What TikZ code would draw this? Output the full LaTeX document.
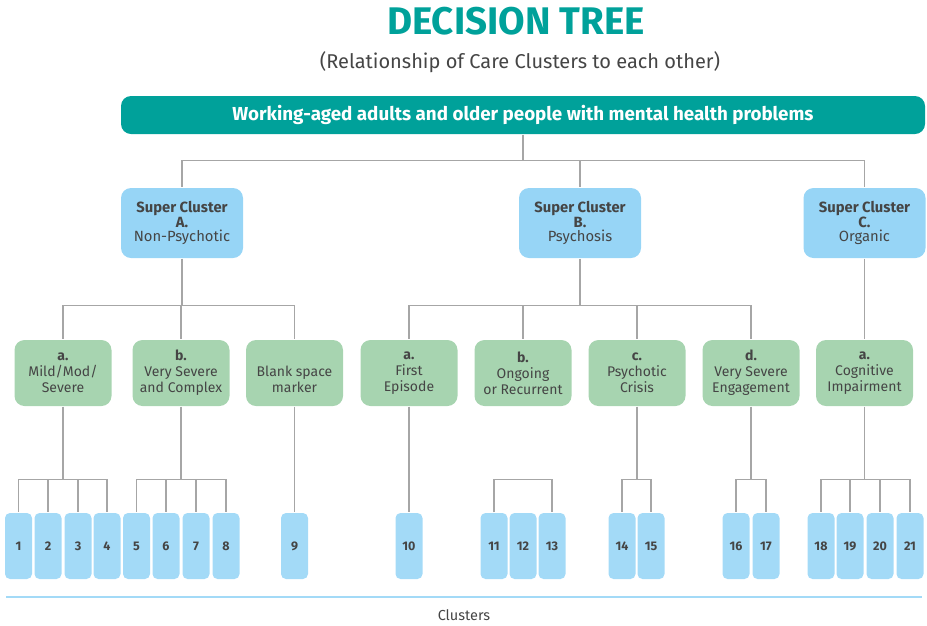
\documentclass[tikz,border=0pt]{standalone}
\usepackage{fontspec}
\setmainfont{Fira Sans}
\usetikzlibrary{positioning}
\definecolor{dtTeal}{HTML}{00A19A}
\definecolor{dtText}{HTML}{454545}
\definecolor{dtSuper}{HTML}{97D5F6}
\definecolor{dtCluster}{HTML}{A3DAF7}
\definecolor{dtGreen}{HTML}{A7D4B0}
\definecolor{dtLine}{HTML}{A6A6A6}

\begin{document}
\begin{tikzpicture}[x=1pt,y=-1pt,line width=1.3pt,draw=dtLine,
 every node/.style={text=dtText,align=center,inner sep=0pt}]
 \tikzstyle{super}=[fill=dtSuper,rounded corners=10pt,minimum width=122pt,minimum height=70pt,
   font=\fontsize{14.8}{14.5}\selectfont]
 \tikzstyle{sub}=[fill=dtGreen,rounded corners=10pt,minimum width=97pt,minimum height=66pt,
   font=\fontsize{14}{16}\selectfont]
 \tikzstyle{cluster}=[fill=dtCluster,rounded corners=5pt,minimum width=27pt,minimum height=66pt,
   font=\bfseries\fontsize{12.5}{13}\selectfont]

 \useasboundingbox (0,0) rectangle (927,625);

 \node[font=\bfseries\fontsize{38.5}{38}\selectfont,text=dtTeal] (title) at (516,21) {DECISION TREE};
 \node[font=\fontsize{20}{20}\selectfont] (subtitle) at (520,62) {(Relationship of Care Clusters to each other)};
 \node[fill=dtTeal,rounded corners=10pt,minimum width=804pt,minimum height=38pt,text=white,
   font=\bfseries\fontsize{18.8}{19}\selectfont] (top) at (523,115)
   {Working-aged adults and older people with mental health problems};

 % super clusters
 \node[super] (A) at (182,223) {\textbf{Super Cluster}\\\textbf{A.}\\Non-Psychotic};
 \node[super] (B) at (580,223) {\textbf{Super Cluster}\\\textbf{B.}\\Psychosis};
 \node[super] (C) at (864.5,223) {\textbf{Super Cluster}\\\textbf{C.}\\Organic};

 % care clusters
 \node[sub] (Aa) at (63,373) {\textbf{a.}\\Mild/Mod/\\Severe};
 \node[sub] (Ab) at (181,373) {\textbf{b.}\\Very Severe\\and Complex};
 \node[sub] (Ac) at (294.5,373) {\phantom{a.}\\Blank space\\marker};
 \node[sub] (Ba) at (409,373) {\textbf{a.}\\First\\Episode};
 \node[sub] (Bb) at (523,373) {\textbf{b.}\\Ongoing\\or Recurrent};
 \node[sub] (Bc) at (637,373) {\textbf{c.}\\Psychotic\\Crisis};
 \node[sub] (Bd) at (751,373) {\textbf{d.}\\Very Severe\\Engagement};
 \node[sub] (Ca) at (864.5,373) {\textbf{a.}\\Cognitive\\Impairment};

 \foreach \n/\x in {1/18.5,2/48,3/78,4/107,5/136.5,6/166,7/196,8/226,9/294.5,10/409,
   11/494,12/523,13/552,14/622,15/651,16/736,17/766,18/821,19/850,20/880,21/910}
   \node[cluster] (c\n) at (\x,546) {\n};

 % connectors
 \draw (top.south) -- ++(0,26) coordinate (j0);
 \draw (j0) -| (A.north) (j0) -| (B.north) (j0) -| (C.north);
 \draw (A.south) -- ++(0,47) coordinate (jA);
 \draw (jA) -| (Aa.north) (jA) -| (Ab.north) (jA) -| (Ac.north);
 \draw (B.south) -- ++(0,47) coordinate (jB);
 \draw (jB) -| (Ba.north) (jB) -| (Bb.north) (jB) -| (Bc.north) (jB) -| (Bd.north);
 \draw (C.south) -- (Ca.north);

 \draw (Aa.south) -- ++(0,73) coordinate (ja);
 \foreach \k in {1,...,4} \draw (ja) -| (c\k.north);
 \draw (Ab.south) -- ++(0,73) coordinate (jb);
 \foreach \k in {5,...,8} \draw (jb) -| (c\k.north);
 \draw (Ac.south) -- (c9.north);
 \draw (Ba.south) -- (c10.north);
 \path (Bb.south) ++(0,73) coordinate (jd);
 \draw (c11.north) |- (jd) -| (c13.north);
 \draw (Bc.south) -- ++(0,73) coordinate (je);
 \foreach \k in {14,15} \draw (je) -| (c\k.north);
 \draw (Bd.south) -- ++(0,73) coordinate (jf);
 \foreach \k in {16,17} \draw (jf) -| (c\k.north);
 \draw (Ca.south) -- ++(0,73) coordinate (jg);
 \foreach \k in {18,...,21} \draw (jg) -| (c\k.north);

 % base line
 \coordinate (baseL) at (6,597);
 \coordinate (baseR) at (922,597);
 \draw[dtCluster,line width=2pt] (baseL) -- (baseR);
 \node[font=\fontsize{14.5}{14}\selectfont] (clusters) at (464,615) {Clusters};
\end{tikzpicture}
\end{document}
